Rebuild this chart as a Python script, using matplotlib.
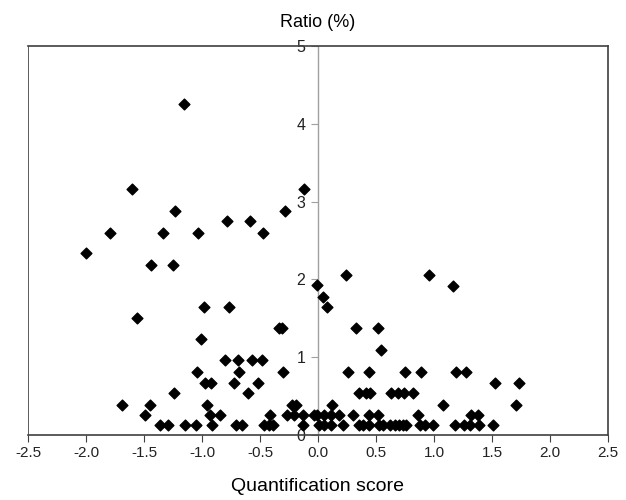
import matplotlib
matplotlib.use("Agg")
import matplotlib.pyplot as plt

plt.rcParams['font.family'] = ['Liberation Sans', 'DejaVu Sans']

# quantification score (x) and ratio % (y)
score = [
    -1.155, -1.60, -0.118, -0.28, -1.233, -0.78, -0.586, -1.79, -1.34, -1.03,
    -0.474, -2.0, -1.44, -1.25, 0.24, 0.96, -0.01, 1.16, 0.04, 0.075,
    -1.56, -0.98, -0.765, -0.34, -0.31, 0.33, 0.515, -1.01, 0.54,
    -0.80, -0.69, -0.57, -0.48,
    -1.04, -0.68, -0.30, 0.256, 0.44, 0.75, 0.89, 1.19, 1.28,
    -0.977, -0.92, -0.727, -0.52, 1.53, 1.73,
    -1.24, -0.60, 0.35, 0.41, 0.45, 0.63, 0.69, 0.74, 0.82,
    -1.69, -1.445, -0.957, -0.22, -0.19, 0.118, 1.08, 1.71,
    -1.49, -0.93, -0.845, -0.41, -0.27, -0.21, -0.127, -0.034, -0.006, 0.052,
    0.11, 0.184, 0.304, 0.44, 0.515, 0.865, 1.316, 1.377,
    -1.362, -1.296, -1.144, -1.052, -0.911, -0.707, -0.658, -0.463, -0.42, -0.385,
    -0.132, 0.009, 0.048, 0.11, 0.22, 0.35, 0.385, 0.44, 0.53, 0.56,
    0.62, 0.66, 0.70, 0.735, 0.76, 0.88, 0.92, 0.99, 1.18, 1.26, 1.31, 1.39, 1.51,
]
ratio = [
    4.26, 3.16, 3.16, 2.88, 2.88, 2.75, 2.75, 2.60, 2.60, 2.60,
    2.60, 2.34, 2.19, 2.19, 2.06, 2.06, 1.93, 1.92, 1.78, 1.64,
    1.51, 1.64, 1.64, 1.37, 1.37, 1.37, 1.37, 1.23, 1.09,
    0.96, 0.96, 0.96, 0.96,
    0.81, 0.81, 0.81, 0.81, 0.81, 0.81, 0.81, 0.81, 0.81,
    0.67, 0.67, 0.67, 0.67, 0.67, 0.67,
    0.54, 0.54, 0.54, 0.54, 0.54, 0.54, 0.54, 0.54, 0.54,
    0.39, 0.39, 0.39, 0.39, 0.39, 0.39, 0.39, 0.39,
    0.26, 0.26, 0.26, 0.26, 0.26, 0.26, 0.26, 0.26, 0.26, 0.26,
    0.26, 0.26, 0.26, 0.26, 0.26, 0.26, 0.26, 0.26,
    0.13, 0.13, 0.13, 0.13, 0.13, 0.13, 0.13, 0.13, 0.13, 0.13,
    0.13, 0.13, 0.13, 0.13, 0.13, 0.13, 0.13, 0.13, 0.13, 0.13,
    0.13, 0.13, 0.13, 0.13, 0.13, 0.13, 0.13, 0.13, 0.13, 0.13, 0.13, 0.13, 0.13,
]
xticks = [-2.5, -2.0, -1.5, -1.0, -0.5, 0.0, 0.5, 1.0, 1.5, 2.0, 2.5]
yticks = [0, 1, 2, 3, 4, 5]

fig = plt.figure(figsize=(6.26, 5.0), dpi=100)
ax = fig.add_axes([0.0447, 0.13, 0.9265, 0.778])

ax.scatter(score, ratio, marker='D', s=30, color='black', zorder=3, clip_on=False)

ax.set_xlim(-2.5, 2.5)
ax.set_ylim(0, 5)
ax.set_xticks(xticks)
ax.set_xticklabels(['%.1f' % t for t in xticks])
ax.set_yticks(yticks)

# y axis sits in the middle at x = 0, outer frame drawn as box
ax.spines['left'].set_position(('data', 0))
ax.spines['left'].set_color('#a0a0a0')
ax.spines['left'].set_linewidth(1.0)
for s in ['top', 'right', 'bottom']:
    ax.spines[s].set_color('#404040')
    ax.spines[s].set_linewidth(1.2)
ax.axvline(-2.5, color='#404040', lw=1.2, zorder=4)

ax.tick_params(axis='x', direction='out', length=5, color='#404040',
               labelsize=11, labelcolor='#222222', pad=3)
ax.tick_params(axis='y', direction='out', length=5, color='#a0a0a0',
               labelsize=11.5, labelcolor='#222222', pad=4)
for lab in ax.get_yticklabels():
    lab.set_zorder(5)

ax.set_title('Ratio (%)', fontsize=13, pad=14)
ax.set_xlabel('Quantification score', fontsize=14, labelpad=13)

fig.savefig('out.png', dpi=100)
